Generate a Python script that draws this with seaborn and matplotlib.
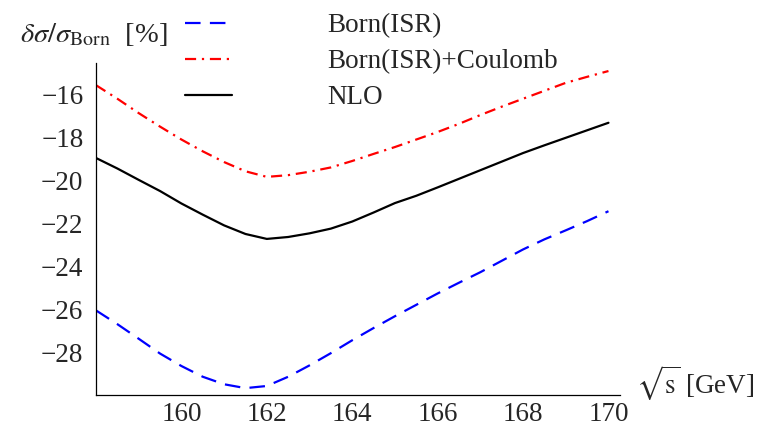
import numpy as np
import pandas as pd
import matplotlib
matplotlib.use("Agg")
import matplotlib.pyplot as plt
from matplotlib.ticker import MultipleLocator, FuncFormatter
import seaborn as sns

# ---- data ----
sqrt_s = [158.0, 158.5, 159.0, 159.5, 160.0, 160.5, 161.0, 161.5, 162.0, 162.5,
          163.0, 163.5, 164.0, 164.5, 165.0, 165.5, 166.0, 166.5, 167.0, 167.5,
          168.0, 168.5, 169.0, 169.5, 170.0]
born_isr = [-26.06, -26.70, -27.38, -28.07, -28.65, -29.15, -29.50, -29.68, -29.58, -29.15,
            -28.62, -28.05, -27.45, -26.88, -26.33, -25.80, -25.27, -24.77, -24.28, -23.75,
            -23.22, -22.75, -22.33, -21.90, -21.44]
born_coul = [-15.57, -16.20, -16.87, -17.50, -18.10, -18.65, -19.15, -19.58, -19.84, -19.76,
             -19.60, -19.40, -19.10, -18.77, -18.45, -18.10, -17.75, -17.37, -16.96, -16.57,
             -16.20, -15.83, -15.46, -15.18, -14.91]
nlo = [-18.96, -19.45, -19.98, -20.50, -21.08, -21.60, -22.10, -22.50, -22.73, -22.64,
       -22.47, -22.25, -21.92, -21.50, -21.06, -20.72, -20.33, -19.93, -19.53, -19.13,
       -18.73, -18.37, -18.02, -17.67, -17.32]
series_names = ["Born(ISR)", "Born(ISR)+Coulomb", "NLO"]
x_ticks = [160, 162, 164, 166, 168, 170]
y_ticks = [-16, -18, -20, -22, -24, -26, -28]

df = pd.DataFrame({
    "x": sqrt_s * 3,
    "y": born_isr + born_coul + nlo,
    "series": [series_names[0]] * len(sqrt_s) + [series_names[1]] * len(sqrt_s) + [series_names[2]] * len(sqrt_s),
})

sns.set_style("white")
plt.rcParams["font.family"] = ["Liberation Serif", "DejaVu Serif"]
plt.rcParams["mathtext.fontset"] = "stix"

fig = plt.figure(figsize=(7.59, 4.26), dpi=100)
ax = fig.add_axes([96 / 759, 1 - 395 / 426, (620 - 96) / 759, (395 - 63.3) / 426])

palette = {series_names[0]: "#0000ff", series_names[1]: "#ff0000", series_names[2]: "#000000"}
dashes = {series_names[0]: (7.0, 4.2), series_names[1]: (5.0, 2.6, 1.0, 2.6), series_names[2]: ""}
sns.lineplot(data=df, x="x", y="y", hue="series", style="series", palette=palette,
             dashes=dashes, linewidth=1.6, ax=ax, legend=True)

ax.set_xlim(158, 170.27)
ax.set_ylim(-30, -14.55)
for s in ["top", "right"]:
    ax.spines[s].set_visible(False)
for s in ["left", "bottom"]:
    ax.spines[s].set_color("black")
    ax.spines[s].set_linewidth(0.9)

ax.set_xticks(x_ticks)
ax.set_yticks(y_ticks)
ax.xaxis.set_minor_locator(MultipleLocator(0.5))
ax.yaxis.set_minor_locator(MultipleLocator(0.5))
ax.yaxis.set_major_formatter(FuncFormatter(lambda v, p: "\u2212%d" % abs(v) if v < 0 else "%d" % v))
ax.tick_params(which="major", direction="in", length=5, width=0.8, labelsize=19.5, color="black")
ax.tick_params(which="minor", direction="in", length=3, width=0.7, color="black")
ax.tick_params(axis="y", which="major", pad=9)
ax.tick_params(axis="x", which="major", pad=5)
ax.set_xlabel("")
ax.set_ylabel("")

fig.text(20 / 759, 1 - 35 / 426, r"$\delta\sigma/\sigma_{\rm Born}$  [%]", fontsize=20.5,
         ha="left", va="center")
fig.text(636 / 759, 1 - 383 / 426, r"$\sqrt{\rm s}$ [GeV]", fontsize=19.5, ha="left", va="center")

handles, labels = ax.get_legend_handles_labels()
ax.legend(handles, labels, loc="upper left", bbox_to_anchor=(185 / 759, 1 - 13 / 426),
          bbox_transform=fig.transFigure, frameon=False, fontsize=19.5,
          borderaxespad=0, borderpad=0,
          handlelength=1.75, handletextpad=3.5, labelspacing=0.41)

fig.savefig("out.png", dpi=100)
